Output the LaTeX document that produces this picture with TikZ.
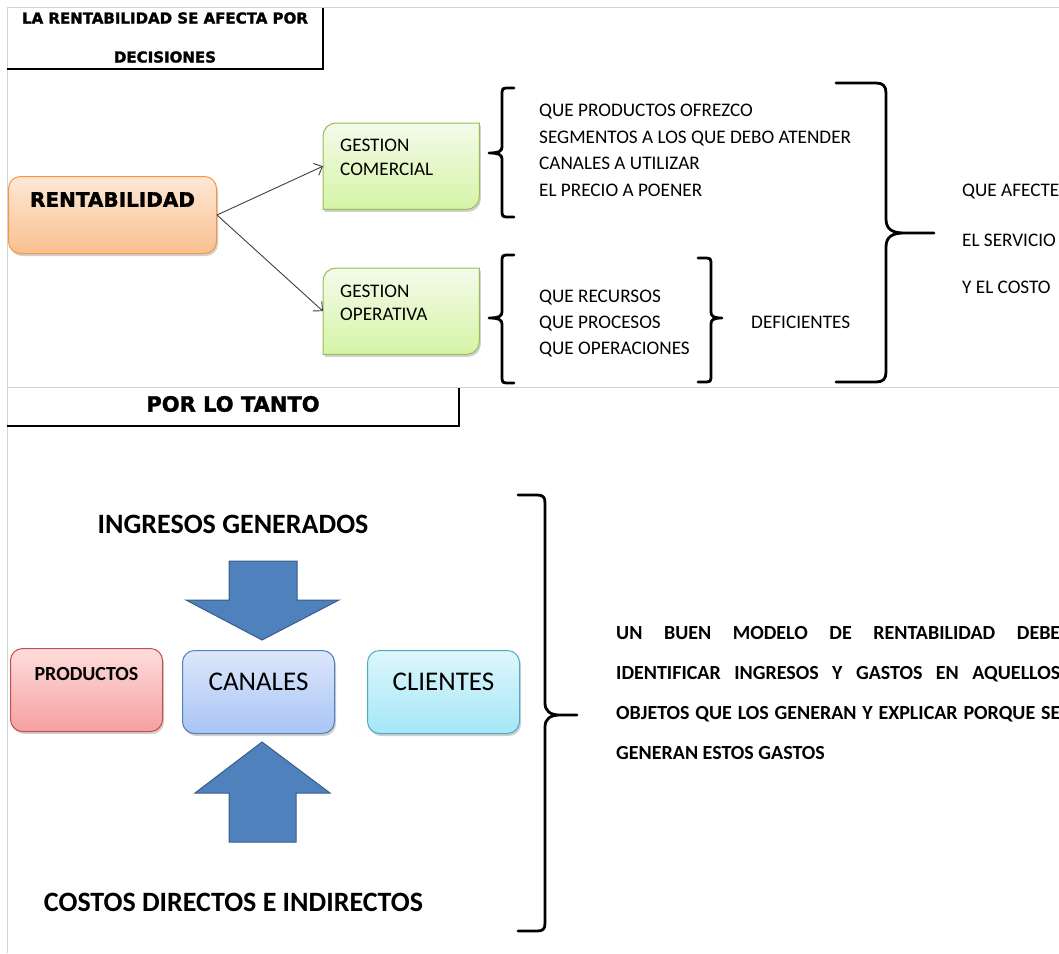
\documentclass[tikz,border=0pt]{standalone}
\usepackage{fontspec}
\setmainfont{Carlito}
\newfontfamily\heavy[BoldFeatures={FakeBold=1.6}]{DejaVu Sans}
\usetikzlibrary{arrows.meta,calc,shadows}

\definecolor{gridgray}{HTML}{D4D4D4}
\definecolor{orgtop}{HTML}{FDE8D6}
\definecolor{orgbot}{HTML}{FAC08F}
\definecolor{orgline}{HTML}{F79646}
\definecolor{grntop}{HTML}{F4FBEA}
\definecolor{grnbot}{HTML}{D5F4A6}
\definecolor{grnline}{HTML}{9BBB59}
\definecolor{redtop}{HTML}{FFDCDC}
\definecolor{redbot}{HTML}{F5A0A0}
\definecolor{redline}{HTML}{C0504D}
\definecolor{blutop}{HTML}{DDE7FB}
\definecolor{blubot}{HTML}{A9C4F5}
\definecolor{bluline}{HTML}{4F81BD}
\definecolor{cyntop}{HTML}{DEF6FC}
\definecolor{cynbot}{HTML}{A5E7F7}
\definecolor{cynline}{HTML}{4BACC6}
\definecolor{arrfill}{HTML}{4F81BD}
\definecolor{arrline}{HTML}{385D8A}

\tikzset{
  grid/.style={gridgray, line width=1pt},
  titlerule/.style={black, line width=2.8pt},
  shade/.style={drop shadow={shadow xshift=1.5pt, shadow yshift=-2.5pt, opacity=0.3, fill=black!60}},
  card/.style={shade, rounded corners=12pt, line width=1pt, inner sep=0pt, anchor=north west},
  brc/.style={black, line width=2.8pt, line join=round, line cap=round},
  conn/.style={black!75, line width=0.9pt, -{Straight Barb[length=7pt, width=13pt, line width=0.9pt]}},
  blockarrow/.style={fill=arrfill, draw=arrline, line width=1pt},
  head/.style={font=\heavy\bfseries, inner sep=0pt, anchor=base},
  t19/.style={font=\fontsize{19.2pt}{23pt}\selectfont, inner sep=0pt, anchor=base west},
  b20/.style={font=\fontsize{20pt}{24pt}\selectfont\bfseries, inner sep=0pt, anchor=base west},
  b28/.style={font=\fontsize{28pt}{32pt}\selectfont\bfseries, inner sep=0pt, anchor=base},
}

\begin{document}
\begin{tikzpicture}[x=1pt, y=-1pt]
\useasboundingbox (0,0) rectangle (1059,953);
\clip (0,0) rectangle (1059,953);
\fill[white] (0,0) rectangle (1059,953);

% sheet grid lines
\draw[grid] (7,7) -- (1059,7);
\draw[grid] (7,7) -- (7,953);
\draw[grid] (7,387) -- (1059,387);

% ---------- upper part ----------
\draw[titlerule] (323,8) -- (323,69) -- (7,69);
\node[head, font=\fontsize{15pt}{18pt}\selectfont\heavy\bfseries] (t1a) at (165,23.5) {LA RENTABILIDAD SE AFECTA POR};
\node[head, font=\fontsize{15pt}{18pt}\selectfont\heavy\bfseries] (t1b) at (165,62.5) {DECISIONES};

\node[card, top color=orgtop, bottom color=orgbot, draw=orgline,
      minimum width=208pt, text height=30.3pt, text depth=46.7pt,
      font=\fontsize{20pt}{24pt}\selectfont\heavy\bfseries] (rent) at (8,176) {RENTABILIDAD};

% management boxes: round top-left and bottom-right corners
\node[inner sep=0pt, minimum width=156pt, minimum height=86pt, anchor=north west] (gc) at (323,123) {};
\node[inner sep=0pt, minimum width=156pt, minimum height=86pt, anchor=north west] (go) at (323,268) {};
\foreach \b in {gc,go}{
  \path[shade, top color=grntop, bottom color=grnbot, draw=grnline, line width=1pt]
    (\b.south west) -- ($(\b.north west)+(0,13)$)
    .. controls ($(\b.north west)+(0,5.8)$) and ($(\b.north west)+(5.8,0)$) .. ($(\b.north west)+(13,0)$)
    -- (\b.north east) -- ($(\b.south east)+(0,-13)$)
    .. controls ($(\b.south east)+(0,-5.8)$) and ($(\b.south east)+(-5.8,0)$) .. ($(\b.south east)+(-13,0)$)
    -- cycle;
}
\node[t19] (gc1) at (340,151) {GESTION};
\node[t19] (gc2) at (340,175) {COMERCIAL};
\node[t19] (go1) at (340,297) {GESTION};
\node[t19] (go2) at (340,320) {OPERATIVA};

\draw[conn] (rent.east) -- (gc.west);
\draw[conn] (rent.east) -- (go.west);

% braces
\draw[brc] (514,88) -- (506,88) .. controls (503,88) and (502,89) .. (502,92) -- (502,147)
  .. controls (502,151) and (499,153) .. (489,153)
  .. controls (499,153) and (502,155) .. (502,159) -- (502,213)
  .. controls (502,216) and (503,217) .. (506,217) -- (514,217);
\draw[brc] (514,255) -- (506,255) .. controls (503,255) and (502,256) .. (502,259) -- (502,312)
  .. controls (502,316) and (499,318) .. (489,318)
  .. controls (499,318) and (502,320) .. (502,324) -- (502,379)
  .. controls (502,382) and (503,383) .. (506,383) -- (514,383);
\draw[brc] (698,258) -- (707,258) .. controls (710,258) and (711,259) .. (711,262) -- (711,312)
  .. controls (711,316) and (713,318) .. (722,318)
  .. controls (713,318) and (711,320) .. (711,324) -- (711,378)
  .. controls (711,381) and (710,382) .. (707,382) -- (698,382);
\draw[brc] (836,83) -- (876,83) .. controls (883,83) and (886,86) .. (886,93) -- (886,219)
  .. controls (886,229) and (892,233) .. (904,233) -- (934,233) -- (904,233)
  .. controls (892,233) and (886,237) .. (886,247) -- (886,372)
  .. controls (886,379) and (883,382) .. (876,382) -- (836,382);

\node[t19] (l1) at (539,116) {QUE PRODUCTOS OFREZCO};
\node[t19] (l2) at (539,143) {SEGMENTOS A LOS QUE DEBO ATENDER};
\node[t19] (l3) at (539,169) {CANALES A UTILIZAR};
\node[t19] (l4) at (539,196) {EL PRECIO A POENER};
\node[t19] (m1) at (539,302) {QUE RECURSOS};
\node[t19] (m2) at (539,328) {QUE PROCESOS};
\node[t19] (m3) at (539,354) {QUE OPERACIONES};
\node[t19] (def) at (751,328) {DEFICIENTES};
\node[t19] (r1) at (962,196) {QUE AFECTE};
\node[t19] (r2) at (962,246) {EL SERVICIO};
\node[t19] (r3) at (962,293) {Y EL COSTO};

% ---------- lower part ----------
\draw[titlerule] (459,388) -- (459,426) -- (7,426);
\node[head, font=\fontsize{21pt}{25pt}\selectfont\heavy\bfseries] (t2) at (233,411.6) {POR LO TANTO};

\node[b28] (ing) at (233,533) {INGRESOS GENERADOS};
\node[b28] (cos) at (233.5,911) {COSTOS DIRECTOS E INDIRECTOS};

\path[blockarrow] (229,561) -- (297,561) -- (297,600) -- (339,600) -- (262,640) -- (186,600) -- (229,600) -- cycle;
\path[blockarrow] (262,742) -- (330,793) -- (296,793) -- (296,842) -- (229,842) -- (229,793) -- (195,793) -- cycle;

\node[card, top color=redtop, bottom color=redbot, draw=redline,
      minimum width=152pt, text height=31.5pt, text depth=51.5pt,
      font=\fontsize{20pt}{24pt}\selectfont\bfseries] (prod) at (10,648) {PRODUCTOS};
\node[card, top color=blutop, bottom color=blubot, draw=bluline,
      minimum width=152pt, text height=39.8pt, text depth=43.2pt,
      font=\fontsize{27pt}{31pt}\selectfont] (can) at (182,650) {CANALES};
\node[card, top color=cyntop, bottom color=cynbot, draw=cynline,
      minimum width=152pt, text height=39.8pt, text depth=43.2pt,
      font=\fontsize{27pt}{31pt}\selectfont] (cli) at (367,650) {CLIENTES};

\draw[brc] (518,495) -- (537,495) .. controls (543,495) and (545,497) .. (545,503) -- (545,703)
  .. controls (545,711) and (550,715) .. (560,715) -- (577,715) -- (560,715)
  .. controls (550,715) and (545,719) .. (545,727) -- (545,923)
  .. controls (545,929) and (543,931) .. (537,931) -- (518,931);

\node[b20] (p1) at (616,639.5) {\makebox[444pt][s]{UN BUEN MODELO DE RENTABILIDAD DEBE}};
\node[b20] (p2) at (616,679.5) {\makebox[444pt][s]{IDENTIFICAR INGRESOS Y GASTOS EN AQUELLOS}};
\node[b20] (p3) at (616,719.5) {\makebox[444pt][s]{OBJETOS QUE LOS GENERAN Y EXPLICAR PORQUE SE}};
\node[b20] (p4) at (616,759.5) {GENERAN ESTOS GASTOS};
\end{tikzpicture}
\end{document}
